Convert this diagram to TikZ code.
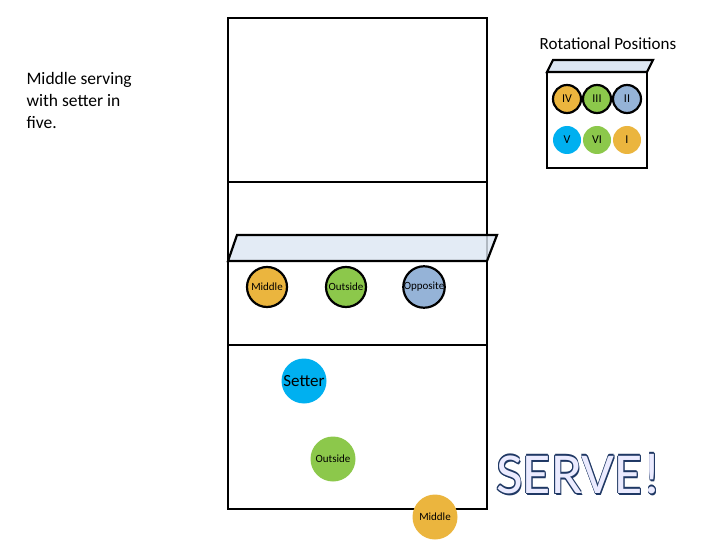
\documentclass[tikz,border=0pt]{standalone}
\usepackage{fontspec}
\setmainfont{Carlito}
\newcommand\myol[3]{\makebox[0pt]{\hspace*{#1pt}\raisebox{#2pt}{\textcolor{outc}{#3}}}}
\begin{document}
\begin{tikzpicture}[x=1pt,y=-1pt,
  bk/.style={line width=2.2pt,draw=black},
  pl/.style={circle,minimum size=40pt,inner sep=0pt,font=\fontsize{11}{11}\selectfont},
  rp/.style={circle,minimum size=28pt,inner sep=0pt,font=\fontsize{12}{12}\selectfont}]
\definecolor{org}{HTML}{EBB53E}
\definecolor{grn}{HTML}{8CC84B}
\definecolor{blu}{HTML}{95B3D7}
\definecolor{cyn}{HTML}{00B0F0}
\definecolor{netc}{HTML}{DCE6F2}
\definecolor{outc}{HTML}{1F3864}
\useasboundingbox (0,0) rectangle (720,540);
\draw[bk] (228,18) rectangle (487,509);
\draw[bk] (228,182) -- (487,182);
\draw[bk] (228,345) -- (487,345);
\draw[bk,fill=netc,fill opacity=0.8] (228,261) -- (237,235) -- (497,235) -- (487,261) -- cycle;
\node[pl,bk,fill=org] (m1) at (267,287) {Middle};
\node[pl,bk,fill=grn] (o1) at (346,287) {Outside};
\node[pl,bk,fill=blu] (op) at (424,287) {Opposite};
\node[pl,fill=cyn,minimum size=45pt,font=\fontsize{17}{17}\selectfont] (s) at (304,381) {Setter};
\node[pl,fill=grn,minimum size=45pt] (o2) at (333,459) {Outside};
\node[pl,fill=org,minimum size=45pt] (m2) at (435,517) {Middle};
\node[align=left,anchor=north west,font=\fontsize{17.5}{22}\selectfont] (t) at (23,69) {Middle serving\\with setter in\\five.};
\node[font=\fontsize{17}{17}\selectfont] (rt) at (608,44) {Rotational Positions};
\draw[bk,fill=white] (547,72) rectangle (647,168);
\draw[bk,fill=netc] (547,72) -- (553,60) -- (653,60) -- (647,72) -- cycle;
\node[rp,bk,fill=org] (r4) at (567,99) {IV};
\node[rp,bk,fill=grn] (r3) at (597,99) {III};
\node[rp,bk,fill=blu] (r2) at (627,99) {II};
\node[rp,fill=cyn] (r5) at (567,140) {V};
\node[rp,fill=grn] (r6) at (597,140) {VI};
\node[rp,fill=org] (r1) at (627,140) {I};
\node[font=\fontsize{58}{58}\selectfont,text=white!92!blue,inner sep=0pt] (sv) at (579,474)
  {\myol{-1.5}{0}{SERVE!}\myol{1.5}{0}{SERVE!}\myol{0}{1.5}{SERVE!}\myol{0}{-1.5}{SERVE!}\myol{1.1}{1.1}{SERVE!}\myol{-1.1}{-1.1}{SERVE!}\myol{1.1}{-1.1}{SERVE!}\myol{-1.1}{1.1}{SERVE!}\myol{2}{-2}{SERVE!}\makebox[0pt]{SERVE!}};
\end{tikzpicture}
\end{document}
